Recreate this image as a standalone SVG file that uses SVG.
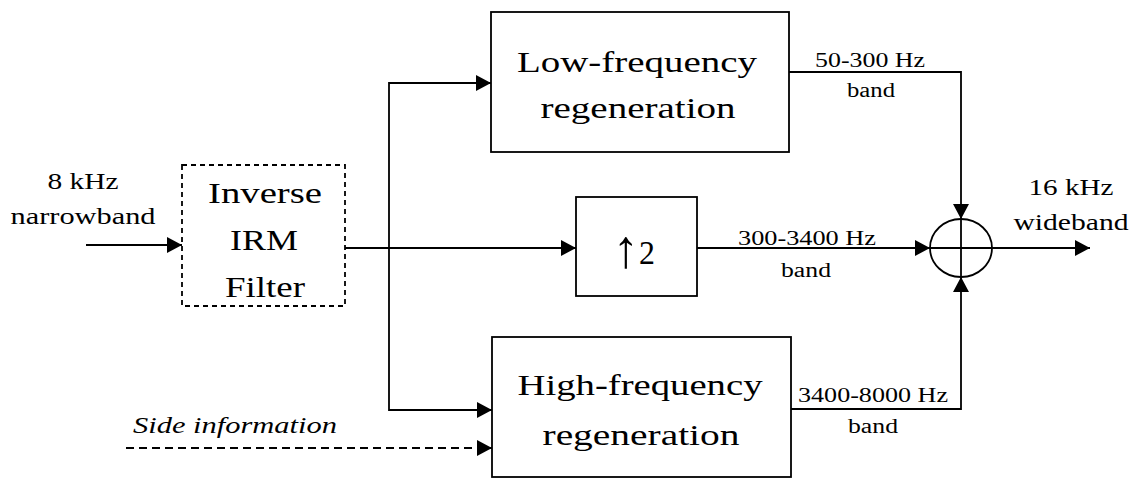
<svg xmlns="http://www.w3.org/2000/svg" width="1139" height="478" viewBox="0 0 1139 478">
<style>
.box{fill:#fff;stroke:#000;stroke-width:1.8}
.dbox{fill:#fff;stroke:#000;stroke-width:1.8;stroke-dasharray:5 4}
.ln{fill:none;stroke:#000;stroke-width:1.8}
.dln{fill:none;stroke:#000;stroke-width:1.8;stroke-dasharray:8 5}
text{font-family:'Liberation Serif','Times New Roman','DejaVu Serif',serif;fill:#000;text-anchor:middle}
.big{font-size:30px}
.mid{font-size:24px}
.sm{font-size:20px}
.it{font-style:italic}
</style>
<defs>
<marker id="ah" markerUnits="userSpaceOnUse" markerWidth="16" markerHeight="16" refX="15" refY="8" orient="auto">
<path d="M0,0 L15,8 L0,16 z" fill="#000"/>
</marker>
</defs>
<g id="connectors">
<path class="ln" d="M86,245 H182" marker-end="url(#ah)"/>
<path class="ln" d="M345,248 H576" marker-end="url(#ah)"/>
<path class="ln" d="M389,248 V83 H491" marker-end="url(#ah)"/>
<path class="ln" d="M389,248 V410 H492" marker-end="url(#ah)"/>
<path class="ln" d="M697,248 H930" marker-end="url(#ah)"/>
<path class="ln" d="M789,72 H961 V219" marker-end="url(#ah)"/>
<path class="ln" d="M791,409 H961 V277" marker-end="url(#ah)"/>
<path class="ln" d="M992,248 H1090" marker-end="url(#ah)"/>
<path class="dln" d="M126,448 H492" marker-end="url(#ah)"/>
</g>
<g id="irm">
<rect class="dbox" x="182" y="165" width="163" height="141"/>
<text class="big" x="265" y="203" textLength="114" lengthAdjust="spacingAndGlyphs">Inverse</text>
<text class="big" x="264" y="250" textLength="68" lengthAdjust="spacingAndGlyphs">IRM</text>
<text class="big" x="265" y="297" textLength="80" lengthAdjust="spacingAndGlyphs">Filter</text>
</g>
<g id="lowfreq">
<rect class="box" x="491" y="12" width="298" height="140"/>
<text class="big" x="637" y="72" textLength="240" lengthAdjust="spacingAndGlyphs">Low-frequency</text>
<text class="big" x="638" y="118" textLength="195" lengthAdjust="spacingAndGlyphs">regeneration</text>
</g>
<g id="upsample">
<rect class="box" x="576" y="197" width="121" height="99"/>
<text x="634" y="264" font-size="33" textLength="42" lengthAdjust="spacingAndGlyphs"><tspan font-size="54" dy="3">↑</tspan><tspan dy="-3">2</tspan></text>
</g>
<g id="highfreq">
<rect class="box" x="492" y="337" width="299" height="140"/>
<text class="big" x="640" y="395" textLength="245" lengthAdjust="spacingAndGlyphs">High-frequency</text>
<text class="big" x="641" y="445" textLength="197" lengthAdjust="spacingAndGlyphs">regeneration</text>
</g>
<g id="sum">
<ellipse cx="961" cy="248" rx="31" ry="29" fill="none" stroke="#000" stroke-width="1.8"/>
<path class="ln" d="M961,219 V277 M930,248 H992"/>
</g>
<g id="labels">
<text class="mid" x="83" y="189" textLength="71" lengthAdjust="spacingAndGlyphs">8 kHz</text>
<text class="mid" x="83" y="224" textLength="145" lengthAdjust="spacingAndGlyphs">narrowband</text>
<text class="sm" x="870" y="67" textLength="110" lengthAdjust="spacingAndGlyphs">50-300 Hz</text>
<text class="sm" x="871" y="97" textLength="48" lengthAdjust="spacingAndGlyphs">band</text>
<text class="sm" x="807" y="245" textLength="138" lengthAdjust="spacingAndGlyphs">300-3400 Hz</text>
<text class="sm" x="806" y="277" textLength="50" lengthAdjust="spacingAndGlyphs">band</text>
<text class="sm" x="873" y="402" textLength="150" lengthAdjust="spacingAndGlyphs">3400-8000 Hz</text>
<text class="sm" x="873" y="433" textLength="50" lengthAdjust="spacingAndGlyphs">band</text>
<text class="mid" x="1071" y="195" textLength="85" lengthAdjust="spacingAndGlyphs">16 kHz</text>
<text class="mid" x="1071" y="230" textLength="115" lengthAdjust="spacingAndGlyphs">wideband</text>
<text class="mid it" x="235" y="433" textLength="204" lengthAdjust="spacingAndGlyphs">Side information</text>
</g>
</svg>
